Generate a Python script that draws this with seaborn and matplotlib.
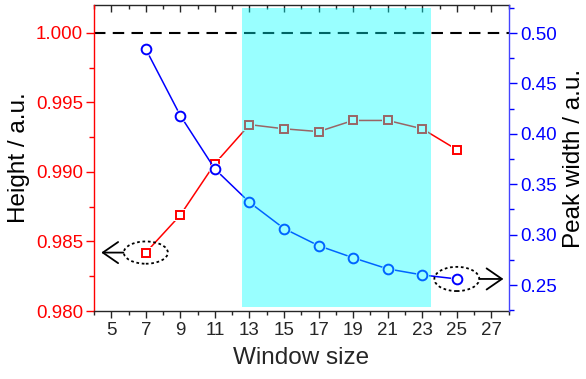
"""
Height and peak width versus smoothing window size (dual y axes).
"""

import matplotlib
matplotlib.use("Agg")
import matplotlib.pyplot as plt
from matplotlib.patches import Ellipse
from matplotlib.ticker import MultipleLocator
import seaborn as sns

# ======================================================
# DATA
# ======================================================

window = [7, 9, 11, 13, 15, 17, 19, 21, 23, 25]
height = [0.9842, 0.9869, 0.9906, 0.9934, 0.9931, 0.9929, 0.9937, 0.9937, 0.9931, 0.9916]
peak_width = [0.484, 0.418, 0.365, 0.332, 0.306, 0.289, 0.277, 0.266, 0.260, 0.256]

x_ticks = [5, 7, 9, 11, 13, 15, 17, 19, 21, 23, 25, 27]
height_ticks = [0.980, 0.985, 0.990, 0.995, 1.000]
width_ticks = [0.25, 0.30, 0.35, 0.40, 0.45, 0.50]

reference_height = 1.000
window_band = (12.58, 23.48)

RED = "#ff0000"
BLUE = "#0000ff"

# ======================================================
# STYLE
# ======================================================

sns.set_style("ticks")
plt.rcParams["font.family"] = ["Liberation Sans", "DejaVu Sans"]
plt.rcParams["axes.linewidth"] = 1.0

fig = plt.figure(figsize=(5.86, 3.79), dpi=100)
ax = fig.add_axes([0.1604, 0.1794, 0.7076, 0.8074])
ax2 = ax.twinx()

# ---- height (left axis) ----
sns.lineplot(x=window, y=height, ax=ax, color=RED, lw=1.1, zorder=2)
ax.plot(window, height, ls="none", marker="s", ms=8.5, mfc="white",
        mec="white", mew=0, zorder=2.1)
ax.plot(window, height, ls="none", marker="s", ms=5.8, mfc="none",
        mec=RED, mew=1.4, zorder=2.2)
ax.axhline(reference_height, color="black", lw=1.5, dashes=(5.5, 3.5), zorder=1.5)

# ---- peak width (right axis) ----
sns.lineplot(x=window, y=peak_width, ax=ax2, color=BLUE, lw=1.1, zorder=3)
ax2.plot(window, peak_width, ls="none", marker="o", ms=9.5, mfc="white",
         mec="white", mew=0, zorder=3.1)
ax2.plot(window, peak_width, ls="none", marker="o", ms=7.0, mfc="none",
         mec=BLUE, mew=1.4, zorder=3.2)

# highlighted window range, drawn on top like a translucent overlay
ax2.axvspan(*window_band, ymin=0.013, ymax=0.99, color="#00ffff",
            alpha=0.4, lw=0, zorder=5)

# ---- axes limits / ticks ----
ax.set_xlim(4, 28)
ax.set_ylim(0.980, 1.002)
ax2.set_ylim(0.2242, 0.5278)

ax.set_xticks(x_ticks)
ax.xaxis.set_minor_locator(MultipleLocator(1))
ax.set_yticks(height_ticks)
ax.set_yticklabels([f"{v:.3f}" for v in height_ticks])
ax.yaxis.set_minor_locator(MultipleLocator(0.0025))
ax2.set_yticks(width_ticks)
ax2.set_yticklabels([f"{v:.2f}" for v in width_ticks])
ax2.yaxis.set_minor_locator(MultipleLocator(0.025))

ax.tick_params(axis="x", which="major", direction="out", length=5, width=1,
               labelsize=13.5, pad=3)
ax.tick_params(axis="x", which="minor", direction="out", length=3, width=1)
ax.tick_params(axis="y", which="major", direction="out", length=6, width=1,
               colors=RED, labelsize=13.5, pad=2)
ax.tick_params(axis="y", which="minor", direction="out", length=3.5, width=1,
               colors=RED)
ax2.tick_params(axis="y", which="major", direction="out", length=6, width=1,
                colors=BLUE, labelsize=13.5, pad=2)
ax2.tick_params(axis="y", which="minor", direction="out", length=3.5, width=1,
                colors=BLUE)

top = ax.secondary_xaxis("top")
top.set_xticks(x_ticks)
top.xaxis.set_minor_locator(MultipleLocator(1))
top.tick_params(which="major", direction="in", length=5, width=1, labeltop=False)
top.tick_params(which="minor", direction="in", length=3, width=1)
top.spines["top"].set_linewidth(1.0)

ax.spines["left"].set_color(RED)
ax.spines["right"].set_visible(False)
ax2.spines["left"].set_visible(False)
ax2.spines["top"].set_visible(False)
ax2.spines["bottom"].set_visible(False)
ax2.spines["right"].set_color("#4444ff")
ax.spines["top"].set_visible(False)

ax.set_xlabel("Window size", fontsize=17.5, labelpad=6)
ax.set_ylabel("Height / a.u.", fontsize=17.5, labelpad=4, color="black")
ax2.set_ylabel("Peak width / a.u.", fontsize=17.5, labelpad=4.5, color="black")

# ---- annotations: which series belongs to which axis ----
arrow_style = dict(arrowstyle="->,head_length=0.55,head_width=0.38",
                   mutation_scale=20, color="black", lw=1.3,
                   shrinkA=0, shrinkB=0)

ax.add_patch(Ellipse((window[0], height[0]), 2.55, 0.0016, fill=False,
                     ec="black", lw=1.3, ls=(0, (1.5, 1.5)), zorder=4))
ax.annotate("", xy=(4.42, height[0]), xytext=(window[0] - 1.3, height[0]),
            arrowprops=arrow_style, zorder=4)

ax2.add_patch(Ellipse((window[-1], peak_width[-1]), 2.6, 0.024, fill=False,
                      ec="black", lw=1.3, ls=(0, (1.5, 1.5)), zorder=4))
ax2.annotate("", xy=(27.7, peak_width[-1]), xytext=(window[-1] + 1.3, peak_width[-1]),
             arrowprops=arrow_style, zorder=4)

fig.savefig("out.png", dpi=100)
